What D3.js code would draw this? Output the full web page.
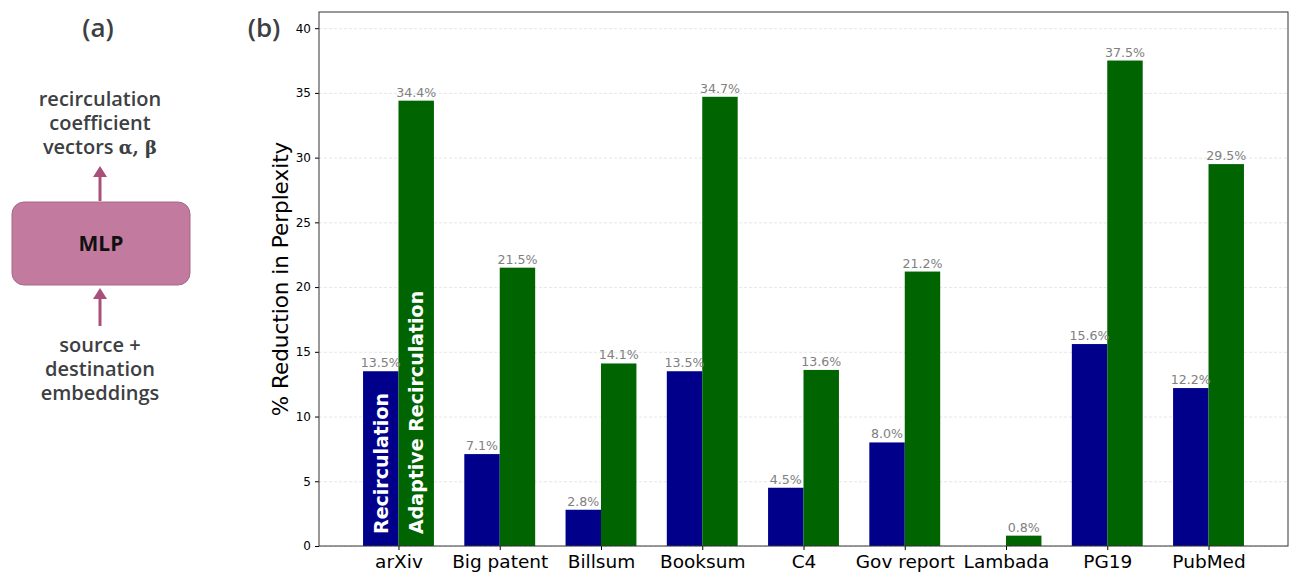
<!DOCTYPE html>
<html>
<head>
<meta charset="utf-8">
<script src="https://cdn.jsdelivr.net/npm/d3@7"></script>
<style>
  body { margin: 0; background: #fff; }
  svg { display: block; }
  .grid line { stroke: #e0e0e0; stroke-dasharray: 3,2; stroke-width: 0.8; }
  .grid path { display: none; }
  .axis text { font-family: "DejaVu Sans", sans-serif; fill: #000; }
  .vlabel { font-family: "DejaVu Sans", sans-serif; font-size: 12.6px; fill: #808080; }
  .panel { font-family: "Open Sans", sans-serif; font-weight: 600; fill: #3c4043; }
</style>
</head>
<body>
<div id="chart"></div>
<script>
// Perplexity reduction per dataset
var datasets = ["arXiv", "Big patent", "Billsum", "Booksum", "C4", "Gov report", "Lambada", "PG19", "PubMed"];
var recirc = [13.5, 7.1, 2.8, 13.5, 4.5, 8.0, 0.0, 15.6, 12.2];
var adaptive = [34.4, 21.5, 14.1, 34.7, 13.6, 21.2, 0.8, 37.5, 29.5];
var yTicks = [0, 5, 10, 15, 20, 25, 30, 35, 40];
var topLines = ["recirculation", "coefficient", "vectors "];
var bottomLines = ["source +", "destination", "embeddings"];

var W = 1300, H = 585;
var svg = d3.select("#chart").append("svg").attr("width", W).attr("height", H);

// ---- panel (a): diagram
var a = svg.append("g");
a.append("text").attr("class", "panel").attr("x", 98).attr("y", 37)
  .attr("text-anchor", "middle").style("font-size", "26px").text("(a)");

// multi-line captions as one text block each
function block(lines, y0) {
  var t = a.append("text").attr("class", "panel").attr("text-anchor", "middle")
    .attr("y", y0).style("font-size", "20px");
  var spans = t.selectAll("tspan").data(lines).enter().append("tspan")
    .attr("x", 100)
    .attr("dy", function (d, i) { return i === 0 ? 0 : 24; })
    .text(function (d) { return d; });
  return t;
}
var topText = block(topLines, 106);
// greek symbols in bold serif, like the math font of the original
topText.append("tspan")
  .style("font-family", "'DejaVu Serif', serif").style("font-weight", "bold")
  .style("font-size", "18px").text("α, β");
block(bottomLines, 352);

var arrowCol = "#a8507a";
function arrow(yFrom, yTo) {
  a.append("line").attr("x1", 100).attr("x2", 100).attr("y1", yFrom).attr("y2", yTo + 8)
    .attr("stroke", arrowCol).attr("stroke-width", 3);
  a.append("polygon")
    .attr("points", (100 - 7) + "," + (yTo + 11) + " 100," + yTo + " " + (100 + 7) + "," + (yTo + 11))
    .attr("fill", arrowCol);
}
arrow(201, 166);
arrow(326, 288);

a.append("rect").attr("x", 12).attr("y", 202).attr("width", 178).attr("height", 83)
  .attr("rx", 12).attr("fill", "#c27b9f").attr("stroke", "#a86688").attr("stroke-width", 1);
a.append("text").attr("x", 101).attr("y", 251).attr("text-anchor", "middle")
  .style("font-family", "'Open Sans', sans-serif").style("font-weight", 700)
  .style("font-size", "21px").attr("fill", "#111").text("MLP");

// ---- panel (b): bar chart
svg.append("text").attr("class", "panel").attr("x", 264).attr("y", 37)
  .attr("text-anchor", "middle").style("font-size", "26px").text("(b)");

var plot = { left: 319, right: 1288, top: 12, bottom: 546 };
var n = datasets.length;
var bw = 0.35;
var x = d3.scaleLinear().domain([-0.785, n - 1 + 0.785]).range([plot.left, plot.right]);
var y = d3.scaleLinear().domain([0, 41.25]).range([plot.bottom, plot.top]);

var g = svg.append("g");

// gridlines
g.append("g").attr("class", "grid")
  .attr("transform", "translate(" + plot.left + ",0)")
  .call(d3.axisLeft(y).tickValues(yTicks).tickSize(-(plot.right - plot.left)).tickFormat(""));

var px = function (v) { return x(v) - x(0); };

// bars
g.selectAll(".rbar").data(recirc).enter().append("rect")
  .attr("class", "rbar")
  .attr("x", function (d, i) { return x(i - bw); })
  .attr("y", function (d) { return y(d); })
  .attr("width", px(bw))
  .attr("height", function (d) { return y(0) - y(d); })
  .attr("fill", "#00008b");

g.selectAll(".abar").data(adaptive).enter().append("rect")
  .attr("class", "abar")
  .attr("x", function (d, i) { return x(i); })
  .attr("y", function (d) { return y(d); })
  .attr("width", px(bw))
  .attr("height", function (d) { return y(0) - y(d); })
  .attr("fill", "#006400");

// value labels (no label for a zero bar)
recirc.forEach(function (d, i) {
  if (d > 0) {
    g.append("text").attr("class", "vlabel")
      .attr("x", x(i - bw / 2)).attr("y", y(d) - 4)
      .attr("text-anchor", "middle").text(d.toFixed(1) + "%");
  }
});
adaptive.forEach(function (d, i) {
  g.append("text").attr("class", "vlabel")
    .attr("x", x(i + bw / 2)).attr("y", y(d) - 4)
    .attr("text-anchor", "middle").text(d.toFixed(1) + "%");
});

// series names inside first group of bars
function inLabel(cx, txt) {
  g.append("text")
    .attr("transform", "translate(" + cx + "," + (plot.bottom - 12) + ") rotate(-90)")
    .attr("dy", "0.36em")
    .style("font-family", "'DejaVu Sans', sans-serif").style("font-weight", "bold")
    .style("font-size", "19px").attr("fill", "#fff").text(txt);
}
inLabel(x(-bw / 2), "Recirculation");
inLabel(x(bw / 2), "Adaptive Recirculation");

// axes
var xAxis = g.append("g").attr("class", "axis")
  .attr("transform", "translate(0," + plot.bottom + ")")
  .call(d3.axisBottom(x).tickValues(d3.range(n)).tickSize(4).tickPadding(5)
    .tickFormat(function (i) { return datasets[i]; }));
xAxis.selectAll("text").style("font-size", "18.5px");
xAxis.select(".domain").remove();

var yAxis = g.append("g").attr("class", "axis")
  .attr("transform", "translate(" + plot.left + ",0)")
  .call(d3.axisLeft(y).tickValues(yTicks).tickSize(4).tickPadding(4));
yAxis.selectAll("text").style("font-size", "12px");
yAxis.select(".domain").remove();

// frame
g.append("rect").attr("x", plot.left).attr("y", plot.top)
  .attr("width", plot.right - plot.left).attr("height", plot.bottom - plot.top)
  .attr("fill", "none").attr("stroke", "#333").attr("stroke-width", 1);

// y title
g.append("text")
  .attr("transform", "translate(280," + ((plot.top + plot.bottom) / 2) + ") rotate(-90)")
  .attr("text-anchor", "middle").attr("dy", "0.35em")
  .style("font-family", "'DejaVu Sans', sans-serif").style("font-size", "21.5px")
  .text("% Reduction in Perplexity");
</script>
</body>
</html>
